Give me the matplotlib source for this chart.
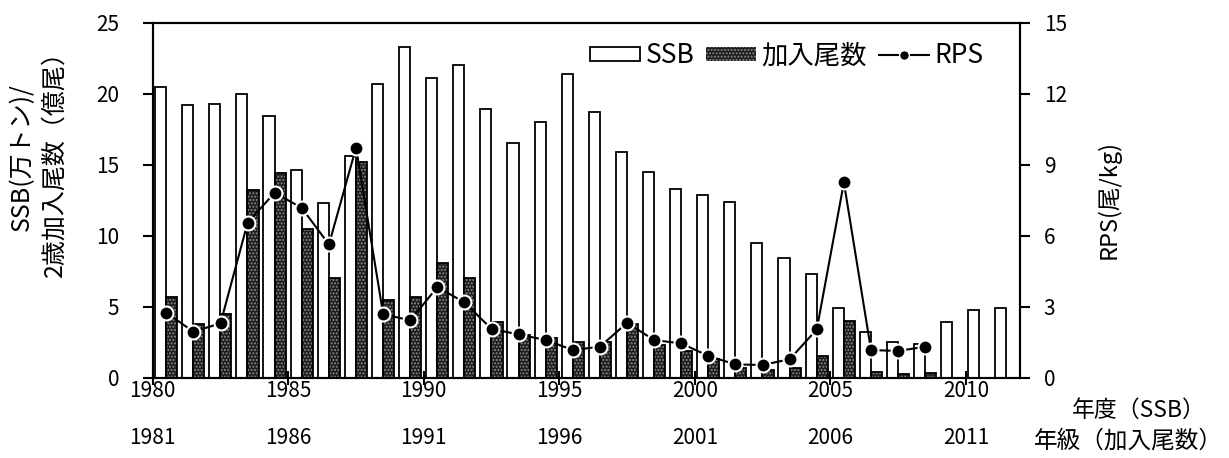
import matplotlib
matplotlib.use("Agg")
import matplotlib.pyplot as plt
from matplotlib.lines import Line2D
from matplotlib.patches import Patch
import numpy as np

plt.rcParams['font.family'] = ['Noto Sans CJK JP', 'DejaVu Sans']

# year (SSB) 1980-2011, year class = year + 1
years = list(range(1980, 2012))
ssb = [20.5, 19.2, 19.3, 20.0, 18.4, 14.6, 12.3, 15.6, 20.7, 23.3,
       21.1, 22.0, 18.9, 16.5, 18.0, 21.4, 18.7, 15.9, 14.5, 13.3,
       12.9, 12.4, 9.5, 8.4, 7.3, 4.9, 3.2, 2.5, 2.4, 3.9,
       4.8, 4.9]
recruit = [5.7, 3.8, 4.5, 13.2, 14.4, 10.5, 7.0, 15.2, 5.5, 5.7,
           8.1, 7.0, 3.9, 3.0, 2.8, 2.5, 2.5, 3.8, 2.3, 1.9,
           1.3, 0.7, 0.55, 0.65, 1.5, 4.0, 0.4, 0.27, 0.3]
rps = [2.75, 1.94, 2.3, 6.55, 7.82, 7.17, 5.63, 9.72, 2.69, 2.42,
       3.83, 3.18, 2.06, 1.83, 1.59, 1.17, 1.31, 2.32, 1.59, 1.45,
       0.92, 0.56, 0.54, 0.78, 2.04, 8.25, 1.17, 1.13, 1.31]
tick_years = [1980, 1985, 1990, 1995, 2000, 2005, 2010]

idx = np.arange(len(years))
idx_r = np.arange(len(recruit))

fig = plt.figure(figsize=(12.29, 4.58), dpi=100)
ax = fig.add_axes([0.1243, 0.1753, 0.7057, 0.7751])
ax2 = ax.twinx()

w = 0.41
ax.bar(idx + 0.29, ssb, width=w, facecolor='white', edgecolor='black', linewidth=1.3, zorder=2)
ax.bar(idx_r + 0.70, recruit, width=w, facecolor='#1c1c1c', edgecolor='#8a8a8a',
       hatch='.....', linewidth=0, zorder=2)
ax.bar(idx_r + 0.70, recruit, width=w, fill=False, edgecolor='black', linewidth=1.3, zorder=3)

ax2.plot(idx_r + 0.5, rps, color='black', linewidth=1.5, marker='o', markersize=10,
         markerfacecolor='black', markeredgecolor='white', markeredgewidth=1.5, zorder=4)

ax.set_xlim(0, len(years))
ax.set_ylim(0, 25)
ax2.set_ylim(0, 15)
ax.set_yticks([0, 5, 10, 15, 20, 25])
ax2.set_yticks([0, 3, 6, 9, 12, 15])

ax.set_xticks([y - 1980 for y in tick_years])
ax.set_xticklabels(['%d\n%d' % (y, y + 1) for y in tick_years], linespacing=2.45)

for a in (ax, ax2):
    for s in a.spines.values():
        s.set_linewidth(1.5)
ax.tick_params(axis='x', direction='inout', length=10, width=1.5, labelsize=15, pad=-3)
ax.tick_params(axis='y', direction='out', length=7, width=1.5, labelsize=15, pad=17)
ax2.tick_params(axis='y', direction='out', length=7, width=1.5, labelsize=15, pad=10)

fig.text(0.031, 0.657, 'SSB(万トン)/\n2歳加入尾数（億尾）', fontsize=18, rotation=90,
         ha='center', va='center', multialignment='center', linespacing=1.35)
fig.text(0.902, 0.565, 'RPS(尾/kg)', fontsize=17, rotation=90, ha='center', va='center')

fig.text(0.927, 0.105, '年度（SSB）', fontsize=16.5, ha='center', va='center')
fig.text(0.918, 0.036, '年級（加入尾数）', fontsize=17, ha='center', va='center')

handles = [
    Patch(facecolor='white', edgecolor='black', linewidth=1.3),
    Patch(facecolor='#1c1c1c', edgecolor='#8a8a8a', hatch='.....', linewidth=0),
    Line2D([0], [0], color='black', linewidth=1.5, marker='o', markersize=7,
           markerfacecolor='black', markeredgecolor='white'),
]
ax.legend(handles, ['SSB', '加入尾数', 'RPS'], ncol=3, loc='upper right',
          bbox_to_anchor=(0.958, 0.945), frameon=False, fontsize=19,
          handlelength=1.9, handleheight=0.45, handletextpad=0.2,
          columnspacing=0.45, borderaxespad=0, borderpad=0)

fig.savefig('out.png', dpi=100)
